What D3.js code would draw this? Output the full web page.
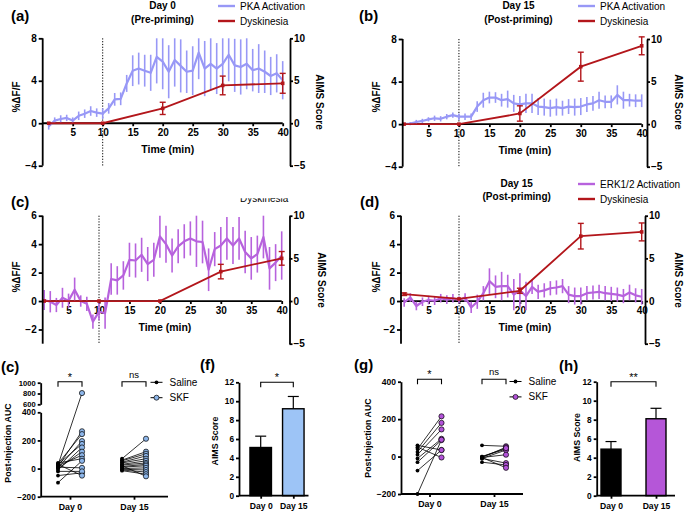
<!DOCTYPE html>
<html><head><meta charset="utf-8">
<script src="https://cdn.jsdelivr.net/npm/d3@7"></script>
<style>
body{margin:0;background:#fff}
svg{display:block}
text{font-family:"Liberation Sans",Arial,sans-serif}
</style>
</head><body>
<svg id="fig" width="685" height="514"></svg>
<script>
// ---------------- DATA ----------------
const minutes = [1,2,3,4,5,6,7,8,9,10,11,12,13,14,15,16,17,18,19,20,21,22,23,24,25,26,27,28,29,30,31,32,33,34,35,36,37,38,39,40];
const xTickValues = [5,10,15,20,25,30,35,40];

const pkaDay0Mean = [-0.3,0.25,0.4,0.5,0.25,0.7,0.9,1.15,1.0,0.9,1.4,2.25,2.3,3.75,4.95,5.15,4.95,4.75,6.25,5.8,4.85,5.95,5.4,4.85,4.95,6.65,5.15,5.6,5.15,5.6,6.45,5.45,5.3,5.6,5.0,5.15,4.85,4.45,4.7,4.05];
const pkaDay0Sem  = [0.3,0.3,0.35,0.3,0.3,0.4,0.4,0.45,0.4,0.5,0.5,0.6,0.6,0.8,1.45,1.5,1.5,1.7,2.5,2.6,2.5,2.5,2.5,2.0,2.3,2.5,2.6,2.5,2.4,2.6,2.5,2.5,2.6,2.4,2.0,2.3,2.0,1.8,1.8,1.8];

const pkaDay15Mean = [0,0.05,0.2,0.3,0.45,0.55,0.5,0.7,0.85,0.7,0.7,0.7,1.65,2.25,2.5,2.5,2.25,2.35,1.95,1.85,1.95,1.95,1.65,1.6,1.5,1.6,1.5,1.65,1.6,1.65,1.85,1.95,2.25,2.1,2.1,2.75,2.25,2.25,2.2,2.2];
const pkaDay15Sem  = [0.1,0.15,0.2,0.2,0.2,0.25,0.25,0.25,0.25,0.3,0.3,0.3,0.5,0.7,0.55,0.5,0.6,0.8,0.8,0.8,0.9,0.9,0.8,0.8,0.8,0.8,0.7,0.7,0.8,0.8,0.7,0.7,0.8,0.6,0.6,0.9,0.8,0.6,0.6,0.6];

const erkDay0Mean = [0.07,-0.05,-0.28,0.23,0.02,0.8,0,-0.2,-1.45,-0.75,-0.85,1.55,1.45,1.8,2.9,2.85,3.25,2.6,2.9,4.55,4.0,3.2,3.85,4.2,4.4,4.2,4.15,2.2,3.65,3.9,4.4,3.9,4.4,3.45,3.0,3.3,4.5,2.3,2.7,3.2];
const erkDay0Sem  = [0.7,0.75,0.5,0.7,0.5,0.85,0.4,0.5,0.5,0.6,1.1,1.1,1.0,1.0,1.2,1.2,1.2,1.2,1.2,1.5,1.3,1.2,1.2,1.2,1.2,1.8,1.5,1.5,1.2,1.3,1.5,1.3,1.5,1.5,1.5,1.3,1.5,1.5,1.3,1.7];

const erkDay15Mean = [-0.1,0.25,-0.35,-0.05,0.07,0.02,0.2,0.1,0.2,0.07,0.25,-0.45,-0.05,0.55,1.4,1.0,1.05,1.05,0.45,0.75,0.35,1.0,0.65,0.75,0.9,0.95,1.05,0.45,0.35,0.35,0.55,0.6,0.65,0.55,0.5,0.45,0.35,0.6,0.4,0.3];
const erkDay15Sem  = [0.3,0.3,0.3,0.3,0.3,0.3,0.3,0.3,0.3,0.25,0.3,0.4,0.5,0.5,0.9,0.8,1.0,0.8,1.1,1.2,1.0,0.5,0.5,0.5,0.5,0.5,0.5,0.6,0.6,0.6,0.5,0.5,0.5,0.5,0.5,0.5,0.5,0.55,0.5,0.55];

const dyskTimes = [1,10,20,30,40];
const dyskPKADay0  = [0,0,1.75,4.45,4.7];
const dyskPKADay0Err  = [0,0,0.72,1.1,1.17];
const dyskPKADay15 = [0,0,1.25,6.75,9.2];
const dyskPKADay15Err = [0,0,0.9,1.7,1.05];
const dyskERKDay0  = [0,0,0,3.45,5.0];
const dyskERKDay0Err  = [0,0,0,0.85,0.8];
const dyskERKDay15 = [0.8,0.25,1.2,7.6,8.1];
const dyskERKDay15Err = [0.15,0,0.3,1.5,1.05];

const days = ["Day 0","Day 15"];
const conditions = ["Saline","SKF"];

const aucPKADay0Saline  = [25,15,35,5,30,-10,0,20,40,-50,-100,10,-20,30];
const aucPKADay0SKF     = [808,265,245,195,175,150,120,95,70,-30,55,5,-20,-50];
const aucPKADay15Saline = [70,60,55,45,40,30,25,15,10,0,-5,-10,-15,20];
const aucPKADay15SKF    = [212,120,105,90,70,55,40,30,20,5,-10,-25,-40,-55];

const aucERKDay0Saline  = [60,50,40,25,10,-10,-30,-75,-200];
const aucERKDay0SKF     = [35,-5,215,180,145,95,88,35,90];
const aucERKDay15Saline = [60,-5,0,-10,-5,-10,-30,-5,0];
const aucERKDay15SKF    = [55,50,40,35,10,-35,-45,-60,45];

const aimsPKA = [5.1,9.2];
const aimsPKAErr = [1.2,1.3];
const aimsERK = [4.9,8.1];
const aimsERKErr = [0.8,1.1];

// ---------------- STYLE ----------------
const colPKA = "#9898f6";
const colERK = "#b762dd";
const colDysk = "#b3161b";
const colSKFpka = "#8db6ea";
const colBarPKA = "#9dc4f6";
const colSKFerk = "#b352d9";
const colBarERK = "#b556d8";
const AX = 1.8;
const intFmt = d3.format("d");

const svg = d3.select("#fig");

function styleAxis(g, fs, bold){
  g.select(".domain").attr("stroke","#000").attr("stroke-width",AX);
  g.selectAll(".tick line").attr("stroke","#000").attr("stroke-width",AX);
  g.selectAll(".tick text").attr("fill","#000").attr("font-size",fs)
    .attr("font-weight", bold===false ? "normal":"bold")
    .attr("font-family","'Liberation Sans',Arial,sans-serif");
}

function txt(g, s, x, y, opt){
  opt = opt || {};
  const t = g.append("text").attr("x",x).attr("y",y).text(s)
    .attr("font-size", opt.size || 10)
    .attr("font-weight", opt.weight || "normal")
    .attr("text-anchor", opt.anchor || "start")
    .attr("fill","#000");
  if (opt.family) t.attr("font-family", opt.family);
  if (opt.rotate) t.attr("transform",`rotate(${opt.rotate},${x},${y})`);
  return t;
}

// ---------------- TIME COURSE PANELS ----------------
function timePanel(c){
  const g = svg.append("g");
  const x = d3.scaleLinear().domain([0,40]).range([c.x0, c.x40]);
  const yL = d3.scaleLinear().domain(c.yDomain).range([c.yBottom, c.yTop]).clamp(true);
  const yR = d3.scaleLinear().domain(c.rDomain).range([c.yBottom, c.yTop]);

  g.append("line").attr("x1",x(10)).attr("x2",x(10)).attr("y1",c.yTop).attr("y2",c.yBottom)
    .attr("stroke","#000").attr("stroke-width",1).attr("stroke-dasharray","1.2,1.6");

  g.append("line").attr("x1",c.leftX).attr("x2",x(40)).attr("y1",yL(0)).attr("y2",yL(0))
    .attr("stroke","#000").attr("stroke-width",AX);
  const xa = g.append("g").attr("transform",`translate(0,${yL(0)})`)
    .call(d3.axisBottom(x).tickValues(xTickValues).tickSize(3).tickSizeOuter(0).tickPadding(3));
  xa.select(".domain").remove();
  styleAxis(xa, 10);

  g.selectAll(null).data(minutes).enter().append("line")
    .attr("x1",d=>x(d)).attr("x2",d=>x(d))
    .attr("y1",(d,i)=>yL(c.mean[i]-c.sem[i])).attr("y2",(d,i)=>yL(c.mean[i]+c.sem[i]))
    .attr("stroke",c.actColor).attr("stroke-width",1.6);
  g.append("path").datum(c.mean)
    .attr("d", d3.line().x((d,i)=>x(minutes[i])).y(d=>yL(d)))
    .attr("fill","none").attr("stroke",c.actColor).attr("stroke-width",2.2).attr("stroke-linejoin","round");

  g.append("path").datum(c.dysk)
    .attr("d", d3.line().x((d,i)=>x(dyskTimes[i])).y(d=>yR(d)))
    .attr("fill","none").attr("stroke",colDysk).attr("stroke-width",1.8);
  const eb = g.selectAll(null).data(dyskTimes.map((t,i)=>({t,v:c.dysk[i],e:c.dyskErr[i]})).filter(d=>d.e>0)).enter();
  eb.append("line").attr("x1",d=>x(d.t)).attr("x2",d=>x(d.t)).attr("y1",d=>yR(d.v-d.e)).attr("y2",d=>yR(d.v+d.e))
    .attr("stroke",colDysk).attr("stroke-width",1.4);
  eb.append("line").attr("x1",d=>x(d.t)-3).attr("x2",d=>x(d.t)+3).attr("y1",d=>yR(d.v-d.e)).attr("y2",d=>yR(d.v-d.e))
    .attr("stroke",colDysk).attr("stroke-width",1.4);
  eb.append("line").attr("x1",d=>x(d.t)-3).attr("x2",d=>x(d.t)+3).attr("y1",d=>yR(d.v+d.e)).attr("y2",d=>yR(d.v+d.e))
    .attr("stroke",colDysk).attr("stroke-width",1.4);
  g.selectAll(null).data(dyskTimes).enter().append("rect")
    .attr("x",d=>x(d)-1.8).attr("y",(d,i)=>yR(c.dysk[i])-1.8).attr("width",3.6).attr("height",3.6)
    .attr("fill",colDysk);

  const la = g.append("g").attr("transform",`translate(${c.leftX},0)`)
    .call(d3.axisLeft(yL).tickValues(c.yTicks).tickSize(4).tickSizeOuter(0).tickPadding(2));
  la.select(".domain").attr("d",`M0,${c.yTop}V${c.yBottom}`);
  styleAxis(la, 10);
  const ra = g.append("g").attr("transform",`translate(${c.rightX},0)`)
    .call(d3.axisRight(yR).tickValues(c.rTicks).tickSize(3).tickSizeOuter(0).tickPadding(1));
  styleAxis(ra, 10);

  txt(g,"Time (min)",x(20) + 5, yL(0)+29.5,{weight:"bold",size:10.5,anchor:"middle"});
  txt(g,"%\u0394F/F",c.yTitleX,c.yTitleY,{weight:"bold",size:10,anchor:"middle",rotate:-90});
  txt(g,"AIMS Score",c.rTitleX,c.rTitleY,{weight:"bold",size:10,anchor:"middle",rotate:90});
  txt(g,c.label,c.labelX,c.labelY,{weight:"bold",size:15});
  if (c.title){
    txt(g,c.title[0],c.titleX,c.titleY,{weight:"bold",size:10,anchor:"middle",family:"'Open Sans',sans-serif"});
    txt(g,c.title[1],c.titleX,c.titleY+13.5,{weight:"bold",size:10,anchor:"middle",family:"'Open Sans',sans-serif"});
  }
  if (c.legend){
    c.legend.forEach((L,i)=>{
      const yy = c.legendY + i*15;
      g.append("line").attr("x1",c.legendX).attr("x2",c.legendX+17).attr("y1",yy).attr("y2",yy)
        .attr("stroke",L.color).attr("stroke-width",2.4);
      txt(g,L.name,c.legendX+22,yy+3.6,{size:10});
    });
  }
  return g;
}

timePanel({x0:42.7,x40:282.7,yTop:38.3,yBottom:165.7,yDomain:[-4,8],yTicks:[-4,0,4,8],
  rDomain:[-5,10],rTicks:[-5,0,5,10],leftX:42.7,rightX:290,
  mean:pkaDay0Mean,sem:pkaDay0Sem,actColor:colPKA,dysk:dyskPKADay0,dyskErr:dyskPKADay0Err,
  label:"(a)",labelX:11,labelY:21,title:["Day 0","(Pre-priming)"],titleX:162.5,titleY:9,
  legend:[{name:"PKA Activation",color:colPKA},{name:"Dyskinesia",color:colDysk}],legendX:218,legendY:6,
  yTitleX:20,yTitleY:97,rTitleX:315.5,rTitleY:102});

timePanel({x0:398,x40:641.7,yTop:39,yBottom:166.7,yDomain:[-4,8],yTicks:[-4,0,4,8],
  rDomain:[-5,10],rTicks:[-5,0,5,10],leftX:402.7,rightX:647,
  mean:pkaDay15Mean,sem:pkaDay15Sem,actColor:colPKA,dysk:dyskPKADay15,dyskErr:dyskPKADay15Err,
  label:"(b)",labelX:359,labelY:21,title:["Day 15","(Post-priming)"],titleX:518.5,titleY:9,
  legend:[{name:"PKA Activation",color:colPKA},{name:"Dyskinesia",color:colDysk}],legendX:578,legendY:6,
  yTitleX:380,yTitleY:97,rTitleX:675,rTitleY:102});

timePanel({x0:38.1,x40:281.7,yTop:215.7,yBottom:343.7,yDomain:[-3,6],yTicks:[-2,0,2,4,6],
  rDomain:[-5,10],rTicks:[-5,0,5,10],leftX:42.7,rightX:289.5,
  mean:erkDay0Mean,sem:erkDay0Sem,actColor:colERK,dysk:dyskERKDay0,dyskErr:dyskERKDay0Err,
  label:"(c)",labelX:11,labelY:207,
  yTitleX:20,yTitleY:277,rTitleX:317.5,rTitleY:280});
// partially hidden legend text of panel (c)
svg.append("clipPath").attr("id","clipc").append("rect").attr("x",230).attr("y",198.3).attr("width",80).attr("height",10);
txt(svg.append("g").attr("clip-path","url(#clipc)"),"Dyskinesia",240,201.5,{size:10});

timePanel({x0:398.1,x40:641.7,yTop:215.7,yBottom:343.7,yDomain:[-3,6],yTicks:[-2,0,2,4,6],
  rDomain:[-5,10],rTicks:[-5,0,5,10],leftX:401,rightX:645,
  mean:erkDay15Mean,sem:erkDay15Sem,actColor:colERK,dysk:dyskERKDay15,dyskErr:dyskERKDay15Err,
  label:"(d)",labelX:360,labelY:207,title:["Day 15","(Post-priming)"],titleX:516.7,titleY:186.5,
  legend:[{name:"ERK1/2 Activation",color:colERK},{name:"Dyskinesia",color:colDysk}],legendX:578,legendY:184,
  yTitleX:380,yTitleY:277,rTitleX:675,rTitleY:280});

// ---------------- AUC PANELS ----------------
function aucPanel(c){
  const g = svg.append("g");
  const dayX = d3.scalePoint().domain(days).range(c.dayRange);
  const off = d3.scalePoint().domain(conditions).range([-12,12]);
  const yv = c.yFn;

  g.append("line").attr("x1",c.axisX).attr("x2",c.xEnd).attr("y1",c.yBase).attr("y2",c.yBase)
    .attr("stroke","#000").attr("stroke-width",AX);
  const xa = g.append("g").attr("transform",`translate(0,${c.yBase})`)
    .call(d3.axisBottom(dayX).tickSize(3).tickSizeOuter(0).tickPadding(4));
  xa.select(".domain").remove();
  styleAxis(xa, 8.8);

  c.axes.forEach(a=>{
    const ya = g.append("g").attr("transform",`translate(${c.axisX},0)`)
      .call(d3.axisLeft(a.scale).tickValues(a.ticks).tickFormat(intFmt).tickSize(3).tickSizeOuter(0).tickPadding(2));
    styleAxis(ya, a.fs || 8.5);
  });

  c.sets.forEach(s=>{
    const pairs = s.saline.map((v,i)=>({a:v,b:s.skf[i]}));
    const xs = dayX(s.day)+off("Saline"), xk = dayX(s.day)+off("SKF");
    g.selectAll(null).data(pairs).enter().append("line")
      .attr("x1",xs).attr("x2",xk).attr("y1",d=>yv(d.a)).attr("y2",d=>yv(d.b))
      .attr("stroke","#000").attr("stroke-width",0.8);
    g.selectAll(null).data(s.saline).enter().append("circle")
      .attr("cx",xs).attr("cy",d=>yv(d)).attr("r",1.9).attr("fill","#000");
    g.selectAll(null).data(s.skf).enter().append("circle")
      .attr("cx",xk).attr("cy",d=>yv(d)).attr("r",2.6).attr("fill",c.skfColor)
      .attr("stroke","#000").attr("stroke-width",0.7);
  });

  c.sig.forEach((s)=>{
    const x1 = dayX(s.day)+off("Saline"), x2 = dayX(s.day)+off("SKF");
    g.append("path").attr("d",`M${x1},${c.brY+5}V${c.brY}H${x2}V${c.brY+5}`)
      .attr("fill","none").attr("stroke","#000").attr("stroke-width",1.1);
    txt(g,s.label,(x1+x2)/2,s.label==="ns"?c.brY-4:c.brY-1,{size:s.label==="ns"?9.5:11,anchor:"middle"});
  });

  conditions.forEach((cn,i)=>{
    const yy = c.legY + i*15.4;
    g.append("line").attr("x1",c.legX).attr("x2",c.legX+12).attr("y1",yy).attr("y2",yy)
      .attr("stroke","#000").attr("stroke-width",1);
    if (cn==="Saline") g.append("circle").attr("cx",c.legX+6).attr("cy",yy).attr("r",1.9).attr("fill","#000");
    else g.append("circle").attr("cx",c.legX+6).attr("cy",yy).attr("r",2.5).attr("fill",c.skfColor).attr("stroke","#000").attr("stroke-width",0.7);
    txt(g,cn,c.legX+19,yy+3.5,{size:10});
  });

  txt(g,"Post-Injection AUC",c.titleX,c.titleY,{weight:"bold",size:8.8,anchor:"middle",rotate:-90});
  txt(g,c.label,c.labelX,c.labelY,{weight:"bold",size:15});
}

const aucLowerPKA = d3.scaleLinear().domain([-200,400]).range([496.7,412.3]);
const aucUpperPKA = d3.scaleLinear().domain([600,1000]).range([404.3,382.7]);
aucPanel({dayRange:[70,134],axisX:40.7,xEnd:168,yBase:496.7,
  yFn:v=> v>=500 ? aucUpperPKA(v) : aucLowerPKA(v),
  axes:[{scale:aucLowerPKA,ticks:[-200,0,200,400],fs:8.2},{scale:aucUpperPKA,ticks:[600,800,1000],fs:7.6}],
  sets:[{day:"Day 0",saline:aucPKADay0Saline,skf:aucPKADay0SKF},{day:"Day 15",saline:aucPKADay15Saline,skf:aucPKADay15SKF}],
  skfColor:colSKFpka,sig:[{day:"Day 0",label:"*"},{day:"Day 15",label:"ns"}],brY:381.7,
  legX:150.5,legY:382.3,titleX:10.5,titleY:443,label:"(c)",labelX:1,labelY:372});

const aucERK = d3.scaleLinear().domain([-200,400]).range([494,381.7]);
aucPanel({dayRange:[429.5,494],axisX:401,xEnd:523,yBase:494,
  yFn:v=>aucERK(v),
  axes:[{scale:aucERK,ticks:[-200,0,200,400]}],
  sets:[{day:"Day 0",saline:aucERKDay0Saline,skf:aucERKDay0SKF},{day:"Day 15",saline:aucERKDay15Saline,skf:aucERKDay15SKF}],
  skfColor:colSKFerk,sig:[{day:"Day 0",label:"*"},{day:"Day 15",label:"ns"}],brY:379.3,
  legX:509.5,legY:381.5,titleX:370.5,titleY:438,label:"(g)",labelX:354,labelY:370});

// ---------------- AIMS BAR PANELS ----------------
function barPanel(c){
  const g = svg.append("g");
  const xb = d3.scalePoint().domain(days).range(c.centers);
  const y = d3.scaleLinear().domain([0,12]).range([495.7,c.yTop]);
  const bw = c.barW;
  g.selectAll(null).data(days).enter().append("line")
    .attr("x1",d=>xb(d)).attr("x2",d=>xb(d))
    .attr("y1",(d,i)=>y(c.vals[i])).attr("y2",(d,i)=>y(c.vals[i]+c.errs[i]))
    .attr("stroke","#000").attr("stroke-width",1.2);
  g.selectAll(null).data(days).enter().append("line")
    .attr("x1",d=>xb(d)-5.5).attr("x2",d=>xb(d)+5.5)
    .attr("y1",(d,i)=>y(c.vals[i]+c.errs[i])).attr("y2",(d,i)=>y(c.vals[i]+c.errs[i]))
    .attr("stroke","#000").attr("stroke-width",1.2);
  g.selectAll(null).data(days).enter().append("rect")
    .attr("x",d=>xb(d)-bw/2).attr("width",bw)
    .attr("y",(d,i)=>y(c.vals[i])).attr("height",(d,i)=>y(0)-y(c.vals[i]))
    .attr("fill",(d,i)=>i===0?"#000":c.color).attr("stroke","#000").attr("stroke-width",1.4);
  g.append("line").attr("x1",c.axisX).attr("x2",c.xEnd).attr("y1",y(0)).attr("y2",y(0))
    .attr("stroke","#000").attr("stroke-width",AX);
  const xa = g.append("g").attr("transform",`translate(0,${y(0)})`)
    .call(d3.axisBottom(xb).tickSize(3).tickSizeOuter(0).tickPadding(4));
  xa.select(".domain").remove();
  styleAxis(xa, 8.6);
  const ya = g.append("g").attr("transform",`translate(${c.axisX},0)`)
    .call(d3.axisLeft(y).tickValues([0,2,4,6,8,10,12]).tickSize(3).tickSizeOuter(0).tickPadding(2));
  styleAxis(ya, 8.3);
  const x1 = xb(days[0]), x2 = xb(days[1]);
  g.append("path").attr("d",`M${x1},${c.brY+5}V${c.brY}H${x2}V${c.brY+5}`)
    .attr("fill","none").attr("stroke","#000").attr("stroke-width",1.1);
  txt(g,c.sig,(x1+x2)/2,c.brY-1,{size:11,anchor:"middle"});
  txt(g,"AIMS Score",c.titleX,c.titleY,{weight:"bold",size:8.8,anchor:"middle",rotate:-90});
  txt(g,c.label,c.labelX,c.labelY,{weight:"bold",size:15});
}

barPanel({centers:[260.7,293.3],barW:21.5,yTop:382.3,vals:aimsPKA,errs:aimsPKAErr,color:colBarPKA,
  axisX:239,xEnd:308.5,brY:382.3,sig:"*",titleX:217.5,titleY:441,label:"(f)",labelX:200,labelY:370});
barPanel({centers:[611,656],barW:20,yTop:381.7,vals:aimsERK,errs:aimsERKErr,color:colBarERK,
  axisX:596.7,xEnd:675,brY:381.7,sig:"**",titleX:580,titleY:437.5,label:"(h)",labelX:559,labelY:371});
</script>
</body></html>
